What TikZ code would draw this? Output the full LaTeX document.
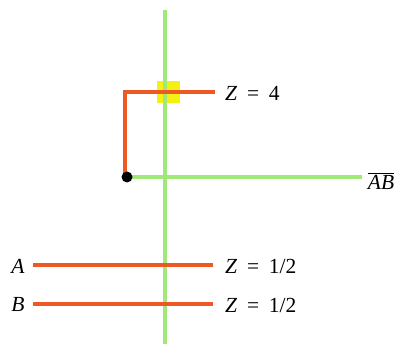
\documentclass[tikz,border=0pt]{standalone}
\usepackage{fontspec}
\setmainfont{Liberation Serif}
\definecolor{orng}{RGB}{238,88,36}
\definecolor{grn}{RGB}{160,232,120}
\definecolor{ylw}{RGB}{245,240,20}
\begin{document}
\begin{tikzpicture}[x=1pt,y=-1pt,
  gline/.style={draw=grn,line width=3.2pt},
  oline/.style={draw=orng,line width=4.6pt},
  lbl/.style={inner sep=0pt,font=\fontsize{21.5}{25}\selectfont},
  zlbl/.style={lbl,anchor=west}]
\useasboundingbox[fill=white] (0,0) rectangle (398,344);
% yellow square
\fill[ylw] (157,81) rectangle (180,103);
% coordinates
\coordinate (gtop) at (165,10);
\coordinate (gbot) at (165,344);
\coordinate (dot) at (127,177);
\coordinate (gend) at (362,177);
\coordinate (corner) at (125,92);
\coordinate (zend) at (215,92);
\coordinate (astart) at (33,265);
\coordinate (aend) at (213,265);
\coordinate (bstart) at (33,304);
\coordinate (bend) at (213,304);
% green axes
\draw[gline] (gtop) -- (gbot);
\draw[gline] (dot) -- (gend);
% orange paths
\draw[oline] (125,177) -- (corner) -- (zend);
\draw[oline] (astart) -- (aend);
\draw[oline] (bstart) -- (bend);
\fill[black] (dot) circle (5.5);
% labels
\node[zlbl] (z4) at (225,93) {\textit{Z}\hspace{0.45em}=\hspace{0.45em}4};
\node[lbl] (ab) at (381,181) {$\overline{\mbox{\textit{AB}}}$};
\node[lbl] (la) at (18,266) {\textit{A}};
\node[zlbl] (za) at (225,266) {\textit{Z}\hspace{0.45em}=\hspace{0.45em}1/2};
\node[lbl] (lb) at (18,304) {\textit{B}};
\node[zlbl] (zb) at (225,305) {\textit{Z}\hspace{0.45em}=\hspace{0.45em}1/2};
\end{tikzpicture}
\end{document}
